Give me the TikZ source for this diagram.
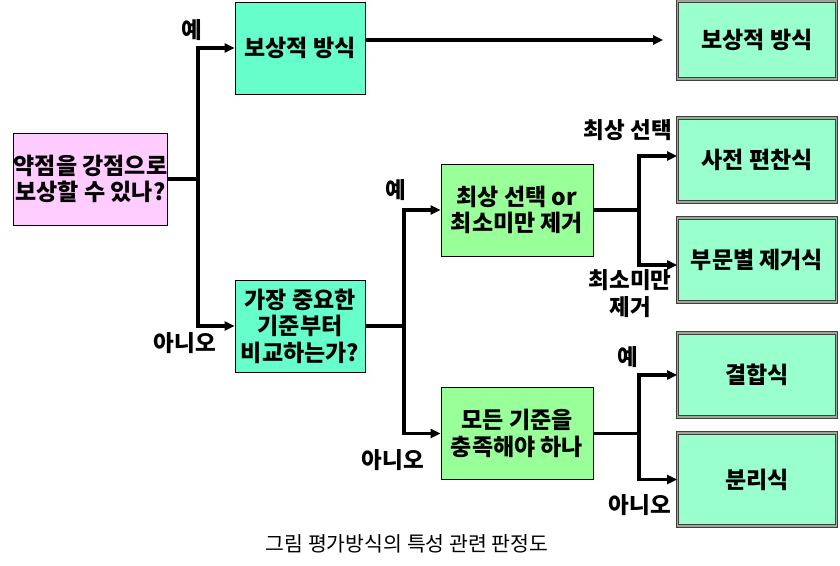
\documentclass[tikz,border=0pt]{standalone}
\usepackage{fontspec}
\setmainfont{Noto Sans CJK KR}
\usetikzlibrary{arrows.meta}

\definecolor{askpink}{RGB}{255,204,255}
\definecolor{stepaqua}{RGB}{102,255,204}
\definecolor{steplime}{RGB}{153,255,153}
\definecolor{endmint}{RGB}{153,255,204}
\definecolor{endrim}{RGB}{150,170,150}

\tikzset{
  box/.style={draw=black, line width=0.8pt, align=center, inner sep=0pt,
    font=\bfseries\fontsize{23}{26.5}\selectfont},
  askbox/.style={box, fill=askpink, minimum width=151pt, minimum height=92pt},
  stepbox/.style={box, fill=stepaqua, minimum width=130pt, minimum height=92pt},
  limebox/.style={box, fill=steplime, minimum width=152pt, minimum height=92pt},
  endbox/.style={box, draw=black!75, double=endrim, double distance=1.6pt,
    fill=endmint, minimum width=159pt},
  lbl/.style={font=\bfseries\fontsize{22.5}{27}\selectfont, align=center, inner sep=0pt},
  wire/.style={line width=3.2pt},
  arr/.style={wire, -{Triangle[length=10pt,width=9pt]}}
}

\begin{document}
\begin{tikzpicture}[x=1pt, y=-1pt]
	\useasboundingbox (0,0) rectangle (840,565);
	% boxes
	\node[askbox] (ask) at (90.5,179) {약점을 강점으로\\보상할 수 있나?};
	\node[stepbox] (comp) at (300,48) {보상적 방식};
	\node[stepbox] (order) at (300,326) {가장 중요한\\기준부터\\비교하는가?};
	\node[limebox] (sel) at (517,210) {최상 선택 or\\최소미만 제거};
	\node[limebox] (all) at (517,433.5) {모든 기준을\\충족해야 하나};
	\node[endbox, minimum height=78pt] (r1) at (757,40) {보상적 방식};
	\node[endbox, minimum height=84pt] (r2) at (757,160) {사전 편찬식};
	\node[endbox, minimum height=84pt] (r3) at (757,260) {부문별 제거식};
	\node[endbox, minimum height=84pt] (r4) at (757,375) {결합식};
	\node[endbox, minimum height=93pt] (r5) at (757,479.5) {분리식};
	% junctions
	\coordinate (j1) at (198,179);
	\coordinate (j2) at (404,326);
	\coordinate (j3) at (639,210);
	\coordinate (j4) at (639,433.5);
	% connectors
	\draw[wire] (ask.east) -- (j1);
	\draw[arr] (j1) |- (comp.west);
	\draw[arr] (j1) |- (order.west);
	\draw[arr] (comp.east |- r1.west) -- ([xshift=-14pt]r1.west);
	\draw[wire] (order.east) -- (j2);
	\draw[arr] (j2) |- (sel.west);
	\draw[arr] (j2) |- (all.west);
	\draw[wire] (sel.east) -- (j3);
	\draw[arr] (j3) |- ([yshift=4pt]r2.west);
	\draw[arr] (j3) |- ([yshift=-5pt]r3.west);
	\draw[wire] (all.east) -- (j4);
	\draw[arr] (j4) |- (r4.west);
	\draw[arr] (j4) |- (r5.west);
	% labels
	\node[lbl] (yes1) at (192,30) {예};
	\node[lbl] (no1) at (185,343) {아니오};
	\node[lbl] (yes2) at (396,190) {예};
	\node[lbl] (no2) at (393,460) {아니오};
	\node[lbl, anchor=east] (best) at (672,130) {최상 선택};
	\node[lbl] (cut) at (630,293.5) {최소미만\\제거};
	\node[lbl] (yes4) at (628,357) {예};
	\node[lbl] (no4) at (640,505) {아니오};
	\node[font=\fontsize{20.5}{22}\selectfont, inner sep=0pt] (cap) at (407,544) {그림 평가방식의 특성 관련 판정도};
\end{tikzpicture}
\end{document}
